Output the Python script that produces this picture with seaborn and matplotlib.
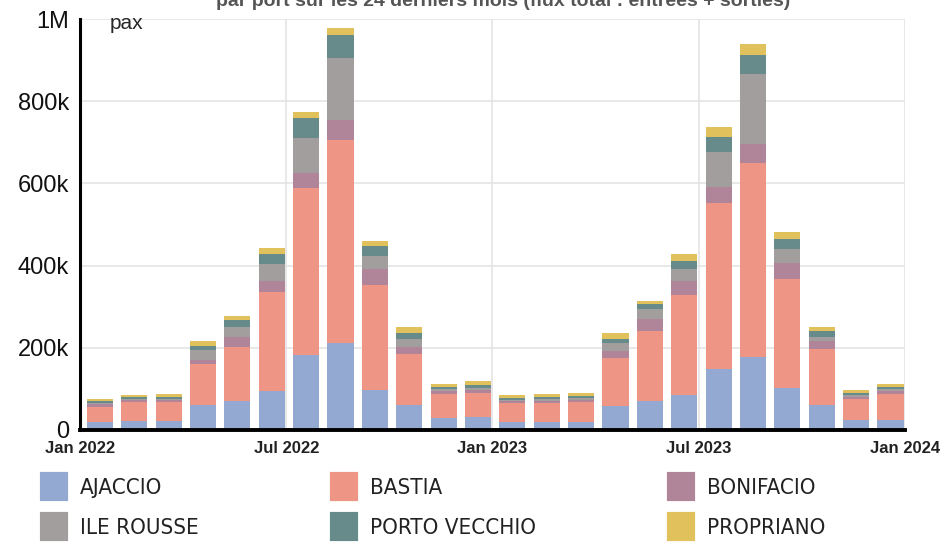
import numpy as np
import pandas as pd
import matplotlib.pyplot as plt
import seaborn as sns
from matplotlib.patches import Patch

# trafic passagers par port, en milliers de pax, jan 2022 -> dec 2023
month_labels = pd.date_range('2022-01-01', periods=24, freq='MS').strftime('%Y-%m').tolist()
ports = ['AJACCIO', 'BASTIA', 'BONIFACIO', 'ILE ROUSSE', 'PORTO VECCHIO', 'PROPRIANO']
ajaccio = [19, 22, 22, 61, 71, 95, 183, 212, 98, 60, 30, 32,
           19.5, 19.5, 19.5, 58.5, 70, 85, 149, 177.5, 102, 62, 24, 25.5]
bastia = [38, 45, 45, 100, 132, 240, 405, 493, 256, 124, 58.5, 59,
          47, 47, 48.5, 115.5, 171.5, 244, 404.5, 473, 265.5, 136, 51, 63]
bonifacio = [5.5, 5, 6, 10, 24, 28, 37, 49, 38, 18, 5.5, 6,
             4, 5, 5, 17, 28.5, 34, 38.5, 44.5, 38.5, 18, 5.5, 6.5]
ile_rousse = [4, 3, 3, 23, 23, 41, 86, 151, 32, 20, 5, 5.5,
              3.5, 3.5, 4, 20, 24, 29, 85, 170, 34, 10, 5.5, 4]
porto_vecchio = [4, 5, 5, 11, 18, 24, 47, 57, 23, 14.5, 6, 7,
                 5, 5.5, 5, 10, 12.5, 20, 37, 47, 24.5, 14, 5, 6]
propriano = [5.5, 6, 7, 11, 10, 14, 16, 16, 14, 13.5, 8, 9.5,
             6, 7.5, 7, 14, 6.5, 16.5, 23, 27, 16.5, 10, 7, 8]
colors = ['#93a9d2', '#ee9585', '#b08499', '#a29e9e', '#678b8b', '#e1c15b']

x_ticks_labels = ['Jan 2022', 'Jul 2022', 'Jan 2023', 'Jul 2023', 'Jan 2024']
y_ticks_labels = ['0', '200k', '400k', '600k', '800k', '1M']

sns.set_style('white')
plt.rcParams['font.family'] = ['Liberation Sans', 'DejaVu Sans']

series = [ajaccio, bastia, bonifacio, ile_rousse, porto_vecchio, propriano]
df = pd.DataFrame({p: np.array(v) * 1000 for p, v in zip(ports, series)})
df['mois'] = month_labels
df['pos'] = np.arange(len(df)) + 0.58
cum = df[ports].cumsum(axis=1)

fig = plt.figure(figsize=(9.45, 5.5), dpi=100)
ax = fig.add_axes([80 / 945, 1 - 430 / 550, 825 / 945, 411 / 550])

# empilement : on dessine les cumuls du haut vers le bas
for port, c in reversed(list(zip(ports, colors))):
    sns.barplot(x=df['pos'], y=cum[port], native_scale=True, orient='x', color=c,
                saturation=1, width=0.76, errorbar=None, linewidth=0, ax=ax, zorder=2)

ax.set_xlim(0, 24)
ax.set_ylim(0, 1_000_000)
ax.set_xticks([0, 6, 12, 18, 24])
ax.set_xticklabels(x_ticks_labels, fontsize=12, fontweight='bold', color='#222222')
ax.set_yticks(np.arange(0, 1_000_001, 200_000))
ax.set_yticklabels(y_ticks_labels, fontsize=17, color='#111111')
ax.set_xlabel('')
ax.set_ylabel('')
ax.grid(True, color='#e2e2e2', linewidth=1.1, zorder=0)
ax.set_axisbelow(True)
ax.tick_params(axis='both', length=5, width=1.5, color='#3d5a3d', pad=3)
ax.tick_params(axis='x', pad=3)
for s in ['top', 'right']:
    ax.spines[s].set_visible(False)
ax.spines['left'].set_linewidth(2.2)
ax.spines['bottom'].set_linewidth(2.8)
ax.spines['left'].set_color('black')
ax.spines['bottom'].set_color('black')

ax.text(30 / 825, 0.988, 'pax', transform=ax.transAxes, fontsize=15, va='center', ha='left')
fig.text(0.532, 0.998, 'par port sur les 24 derniers mois (flux total : entrées + sorties)',
         ha='center', va='center', fontsize=14, fontweight='bold', color='#555555')

handles = [Patch(facecolor=c, edgecolor=c, linewidth=3, joinstyle='round', label=p)
           for p, c in zip(ports, colors)]
# ordre par lignes : 3 colonnes
order = [0, 3, 1, 4, 2, 5]
fig.legend([handles[i] for i in order], [ports[i] for i in order], ncol=3,
           loc='upper left', bbox_to_anchor=(42 / 945, 1 - 474 / 550),
           frameon=False, borderpad=0, borderaxespad=0,
           prop=dict(family='DejaVu Sans', stretch='condensed', size=16),
           handlelength=1.1, handleheight=1.35, handletextpad=0.6,
           labelspacing=0.68, columnspacing=6.0, labelcolor='#222222')

fig.savefig('out.png', dpi=100)
